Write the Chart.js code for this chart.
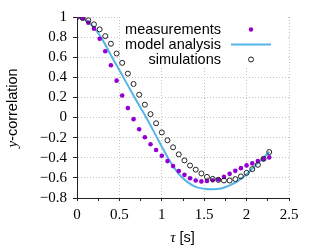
<!DOCTYPE html>
<html>
<head>
<meta charset="utf-8">
<script src="https://cdn.jsdelivr.net/npm/chart.js@4.4.1/dist/chart.umd.min.js"></script>
<style>
  html, body { margin: 0; padding: 0; background: #fff; }
  canvas { display: block; }
</style>
</head>
<body>
<canvas id="chart" width="316" height="249"></canvas>
<script>
// lag values tau [s] for the measured / simulated points
const tau = [0, 0.067, 0.133, 0.2, 0.267, 0.333, 0.4, 0.467, 0.533, 0.6, 0.667, 0.733,
  0.8, 0.867, 0.933, 1.0, 1.067, 1.133, 1.2, 1.267, 1.333, 1.4, 1.467, 1.533, 1.6,
  1.667, 1.733, 1.8, 1.867, 1.933, 2.0, 2.067, 2.133, 2.2, 2.267];

const measurements = [1.0, 0.987, 0.944, 0.884, 0.784, 0.66, 0.52, 0.367, 0.22, 0.094,
  -0.016, -0.116, -0.196, -0.265, -0.323, -0.38, -0.433, -0.483, -0.532, -0.57, -0.603,
  -0.626, -0.635, -0.63, -0.623, -0.616, -0.59, -0.56, -0.53, -0.503, -0.476, -0.456,
  -0.433, -0.413, -0.396];

const simulations = [1.0, 0.99, 0.967, 0.927, 0.877, 0.81, 0.734, 0.637, 0.544, 0.437,
  0.334, 0.227, 0.128, 0.034, -0.057, -0.148, -0.226, -0.296, -0.366, -0.426, -0.477,
  -0.518, -0.556, -0.59, -0.61, -0.62, -0.626, -0.626, -0.612, -0.585, -0.55, -0.513,
  -0.47, -0.41, -0.343];

// model analysis curve
const modelTau = [0, 0.1, 0.2, 0.3, 0.4, 0.5, 0.6, 0.7, 0.8, 0.9, 1.0, 1.1, 1.2, 1.3,
  1.4, 1.5, 1.6, 1.7, 1.8, 1.9, 2.0, 2.1, 2.2, 2.27];
const modelValues = [1.0, 0.97, 0.895, 0.775, 0.62, 0.47, 0.32, 0.17, 0.025, -0.13,
  -0.29, -0.44, -0.56, -0.64, -0.69, -0.708, -0.713, -0.705, -0.675, -0.63, -0.565,
  -0.48, -0.4, -0.34];

const legendLabels = ["measurements", "model analysis", "simulations"];

const PURPLE = "#9400d3";
const BLUE = "#56b4e9";
const DARK = "#222";
const GRID = "#c4c4c4";
const SANS = "'Liberation Sans', Arial, sans-serif";
const SERIF = "'Liberation Serif', 'Times New Roman', serif";

const toPoints = (xs, ys) => xs.map((x, i) => ({ x, y: ys[i] }));

function fmt(v) {
  const r = Math.round(v * 10) / 10;
  return String(r).replace("-", "\u2212");
}

const isHalf = v => Math.abs(v * 2 - Math.round(v * 2)) < 1e-6;

/* legend box + axis titles with mixed fonts */
const decor = {
  id: "decor",
  beforeDatasetsDraw(chart) {
    const ctx = chart.ctx;
    ctx.save();
    ctx.fillStyle = "#fff";
    ctx.fillRect(120, 12, 166, 54);

    ctx.font = "14.5px " + SANS;
    ctx.fillStyle = "#000";
    ctx.textAlign = "right";
    ctx.textBaseline = "middle";
    const rows = [29.5, 44.5, 59.5];
    legendLabels.forEach((t, i) => ctx.fillText(t, 221, rows[i]));

    ctx.fillStyle = PURPLE;
    ctx.beginPath();
    ctx.arc(251, rows[0], 2.2, 0, Math.PI * 2);
    ctx.fill();

    ctx.strokeStyle = BLUE;
    ctx.lineWidth = 2;
    ctx.beginPath();
    ctx.moveTo(231, rows[1]);
    ctx.lineTo(271, rows[1]);
    ctx.stroke();

    ctx.strokeStyle = DARK;
    ctx.lineWidth = 1;
    ctx.beginPath();
    ctx.arc(251, rows[2], 2.5, 0, Math.PI * 2);
    ctx.stroke();
    ctx.restore();
  },
  afterDraw(chart) {
    const ctx = chart.ctx;
    ctx.save();
    ctx.fillStyle = "#000";
    ctx.textBaseline = "middle";
    ctx.textAlign = "left";

    // x title: tau [s]
    const a = "\u03c4", b = " [s]";
    ctx.font = "italic 15px " + SERIF;
    const wa = ctx.measureText(a).width;
    ctx.font = "14.5px " + SANS;
    const wb = ctx.measureText(b).width;
    let x0 = 182.5 - (wa + wb) / 2;
    ctx.font = "italic 15px " + SERIF;
    ctx.fillText(a, x0, 238);
    ctx.font = "14.5px " + SANS;
    ctx.fillText(b, x0 + wa, 238);

    // y title: y-correlation
    ctx.translate(13, 108);
    ctx.rotate(-Math.PI / 2);
    const c = "y", d = "-correlation";
    ctx.font = "italic 15px " + SERIF;
    const wc = ctx.measureText(c).width;
    ctx.font = "14.5px " + SANS;
    const wd = ctx.measureText(d).width;
    x0 = -(wc + wd) / 2;
    ctx.font = "italic 15px " + SERIF;
    ctx.fillText(c, x0, 0);
    ctx.font = "14.5px " + SANS;
    ctx.fillText(d, x0 + wc, 0);
    ctx.restore();
  }
};

new Chart(document.getElementById("chart"), {
  type: "scatter",
  data: {
    datasets: [
      {
        label: legendLabels[2],
        data: toPoints(tau, simulations),
        pointRadius: 2.5,
        pointBorderWidth: 1,
        pointBorderColor: DARK,
        pointBackgroundColor: "rgba(0,0,0,0)",
        order: 0
      },
      {
        label: legendLabels[0],
        data: toPoints(tau, measurements),
        pointRadius: 2.3,
        pointBorderWidth: 0,
        pointBackgroundColor: PURPLE,
        order: 1
      },
      {
        label: legendLabels[1],
        data: toPoints(modelTau, modelValues),
        showLine: true,
        pointRadius: 0,
        borderColor: BLUE,
        borderWidth: 2,
        cubicInterpolationMode: "monotone",
        order: 2
      }
    ]
  },
  options: {
    responsive: false,
    animation: false,
    layout: { padding: { left: 0, top: 17, right: 27, bottom: 21 } },
    plugins: { legend: { display: false }, tooltip: { enabled: false } },
    scales: {
      x: {
        type: "linear",
        min: 0,
        max: 2.5,
        afterFit: s => { s.height = 30; },
        ticks: {
          stepSize: 0.25,
          autoSkip: false,
          maxRotation: 0,
          padding: 5,
          color: "#000",
          font: { family: SERIF, size: 15 },
          callback: v => (isHalf(v) ? String(v) : "")
        },
        grid: {
          color: c => (c.tick && isHalf(c.tick.value) ? GRID : "rgba(0,0,0,0)"),
          tickColor: DARK,
          tickLength: 3
        },
        border: { color: DARK, width: 1, dash: [1, 2] }
      },
      y: {
        min: -0.8,
        max: 1,
        afterFit: s => { s.width = 77; },
        ticks: {
          stepSize: 0.2,
          autoSkip: false,
          padding: 6,
          color: "#000",
          font: { family: SERIF, size: 15 },
          callback: v => fmt(v)
        },
        grid: { color: GRID, tickColor: DARK, tickLength: 4 },
        border: { color: DARK, width: 1, dash: [1, 2] }
      }
    }
  },
  plugins: [decor]
});
</script>
</body>
</html>
